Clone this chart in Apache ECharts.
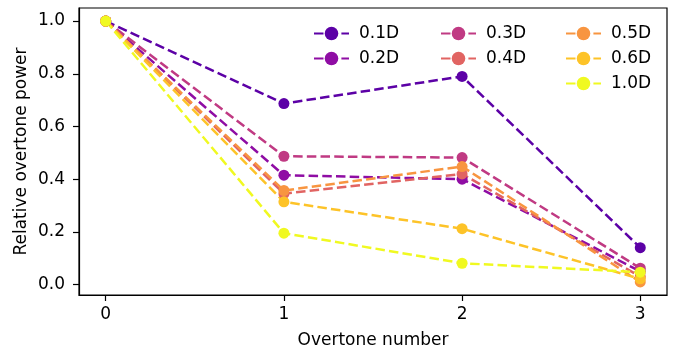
<!DOCTYPE html>
<html><head><meta charset="utf-8">
<script src="https://cdn.jsdelivr.net/npm/echarts@6/dist/echarts.min.js"></script>
<style>html,body{margin:0;padding:0;background:#fff}#c{width:674px;height:351px}</style>
</head><body><div id="c"></div>
<script>
const overtones = [0, 1, 2, 3];
const seriesNames = ['0.1D', '0.2D', '0.3D', '0.4D', '0.5D', '0.6D', '1.0D'];
const v01 = [1.0, 0.687, 0.790, 0.140];
const v02 = [1.0, 0.415, 0.400, 0.050];
const v03 = [1.0, 0.487, 0.482, 0.062];
const v04 = [1.0, 0.345, 0.420, 0.030];
const v05 = [1.0, 0.357, 0.448, 0.010];
const v06 = [1.0, 0.314, 0.212, 0.022];
const v10 = [1.0, 0.195, 0.081, 0.047];
const yTicks = [0.0, 0.2, 0.4, 0.6, 0.8, 1.0];
const xTicks = [0, 1, 2, 3];
const colors = ['#5c01a6', '#8f0da4', '#c03a83', '#e16462', '#f89540', '#fdc328', '#f0f921'];
const allValues = [v01, v02, v03, v04, v05, v06, v10];

const font = 'DejaVu Sans';
const series = seriesNames.map((n, i) => ({
  name: n, type: 'line',
  data: overtones.map((x, j) => [x, allValues[i][j]]),
  symbol: 'circle', symbolSize: 11,
  itemStyle: { color: colors[i] },
  lineStyle: { color: colors[i], width: 2.5, type: [9.5, 4.2] },
  emphasis: { disabled: true },
  animation: false
}));

const legendCommon = {
  orient: 'vertical', top: 20, itemGap: 8, itemWidth: 35, itemHeight: 17,
  textStyle: { fontFamily: font, fontSize: 17, color: '#000', padding: [0, 0, 0, 5] },
  selectedMode: false
};

const chart = echarts.init(document.getElementById('c'));
chart.setOption({
  animation: false,
  grid: { left: 79, right: 7, top: 8, bottom: 56, show: true, borderColor: '#000', borderWidth: 1.2,
    containLabel: false, outerBoundsMode: 'none' },
  xAxis: {
    type: 'value', min: -0.15, max: 3.15,
    name: 'Overtone number', nameLocation: 'middle', nameGap: 37, nameMoveOverlap: false,
    nameTextStyle: { fontFamily: font, fontSize: 17, color: '#000' },
    axisLine: { show: true, onZero: false, lineStyle: { color: '#000', width: 1.2 } },
    axisTick: { show: true, customValues: xTicks, length: 6, lineStyle: { color: '#000', width: 1.2 } },
    axisLabel: { customValues: xTicks, fontFamily: font, fontSize: 17, color: '#000', margin: 11 },
    splitLine: { show: false }
  },
  yAxis: {
    type: 'value', min: -0.0395, max: 1.0495,
    name: 'Relative overtone power', nameLocation: 'middle', nameGap: 49, nameMoveOverlap: false,
    nameTextStyle: { fontFamily: font, fontSize: 17, color: '#000' },
    axisLine: { show: true, onZero: false, lineStyle: { color: '#000', width: 1.2 } },
    axisTick: { show: true, customValues: yTicks, length: 6, lineStyle: { color: '#000', width: 1.2 } },
    axisLabel: { customValues: yTicks, fontFamily: font, fontSize: 17, color: '#000', margin: 14,
      formatter: v => v.toFixed(1) },
    splitLine: { show: false }
  },
  legend: [
    Object.assign({}, legendCommon, { left: 308, data: ['0.1D', '0.2D'] }),
    Object.assign({}, legendCommon, { left: 435, data: ['0.3D', '0.4D'] }),
    Object.assign({}, legendCommon, { left: 560, data: ['0.5D', '0.6D', '1.0D'] })
  ],
  series: series
});
</script></body></html>
